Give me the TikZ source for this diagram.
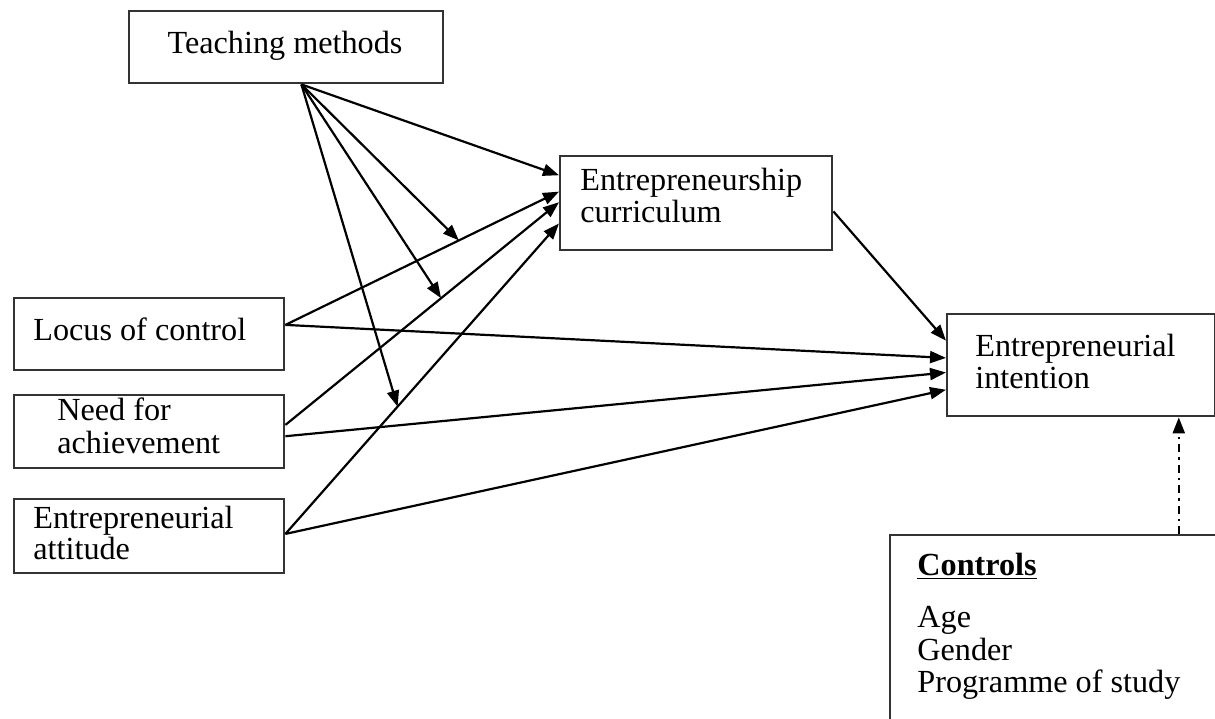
\documentclass[tikz,border=0pt]{standalone}
\usepackage{fontspec}
\setmainfont{Liberation Serif}
\usetikzlibrary{arrows.meta,calc}
\begin{document}
\begin{tikzpicture}[x=0.5pt,y=-0.5pt,
  box/.style={draw=black!80, line width=1.2pt, rectangle, inner sep=0pt, anchor=north west},
  lbl/.style={anchor=base west, inner sep=0pt, font=\fontsize{16.1}{16}\selectfont, text=black},
  tip/.style={-{Triangle[length=8pt,width=6pt]}},
  arr/.style={tip, line width=1.1pt, black},
  dashdot/.style={tip, line width=1.1pt, black, dash pattern=on 4pt off 2.5pt on 1.2pt off 2.5pt},
]
\clip (0,0) rectangle (1215,718);
\fill[white] (0,0) rectangle (1215,718);

% boxes
\node[box, minimum width=157pt, minimum height=36pt] (tm) at (128,10) {};
\node[box, minimum width=136pt, minimum height=47pt] (cur) at (559,155) {};
\node[box, minimum width=135pt, minimum height=36pt] (loc) at (13,297) {};
\node[box, minimum width=135pt, minimum height=36.5pt] (nfa) at (13,394) {};
\node[box, minimum width=135pt, minimum height=37pt] (att) at (13,498) {};
\node[box, minimum width=134pt, minimum height=51pt] (int) at (946,313) {};
\node[box, minimum width=175.5pt, minimum height=103pt] (ctl) at (889,534) {};

% texts
\node[lbl, anchor=base] (tmt) at (285,53) {Teaching methods};
\node[lbl] (curt1) at (580,190) {Entrepreneurship};
\node[lbl] (curt2) at (580,222) {curriculum};
\node[lbl] (loct) at (33,340) {Locus of control};
\node[lbl] (nfat1) at (57,420) {Need for};
\node[lbl] (nfat2) at (57,453) {achievement};
\node[lbl] (attt1) at (33,528) {Entrepreneurial};
\node[lbl] (attt2) at (33,559) {attitude};
\node[lbl] (intt1) at (975,356) {Entrepreneurial};
\node[lbl] (intt2) at (975,388) {intention};
\node[lbl] (ctlt0) at (917,575) {\textbf{\underline{Controls}}};
\node[lbl] (ctlt1) at (917,627) {Age};
\node[lbl] (ctlt2) at (917,660) {Gender};
\node[lbl] (ctlt3) at (917,692) {Programme of study};

% connection points
\coordinate (tmS) at ($(tm.south west)!0.548!(tm.south east)$);
\coordinate (locE) at ($(loc.north east)!0.375!(loc.south east)$);
\coordinate (nfaE1) at ($(nfa.north east)!0.41!(nfa.south east)$);
\coordinate (nfaE2) at ($(nfa.north east)!0.56!(nfa.south east)$);
\coordinate (attE) at ($(att.north east)!0.47!(att.south east)$);
\coordinate (curW0) at ($(cur.north west)!0.21!(cur.south west)$);
\coordinate (curW1) at ($(cur.north west)!0.38!(cur.south west)$);
\coordinate (curW2) at ($(cur.north west)!0.49!(cur.south west)$);
\coordinate (curW3) at ($(cur.north west)!0.71!(cur.south west)$);
\coordinate (curE) at ($(cur.north east)!0.585!(cur.south east)$);
\coordinate (intW0) at ($(int.north west)!0.265!(int.south west)$);
\coordinate (intW1) at ($(int.north west)!0.43!(int.south west)$);
\coordinate (intW2) at ($(int.north west)!0.57!(int.south west)$);
\coordinate (intW3) at ($(int.north west)!0.735!(int.south west)$);
\coordinate (ctlN) at ($(ctl.north west)!0.82!(ctl.north east)$);
\coordinate (m1) at ($(locE)!0.634!(curW1)$);
\coordinate (m2) at ($(nfaE1)!0.569!(curW2)$);
\coordinate (m3) at ($(attE)!0.41!(curW3)$);

% connectors
\draw[arr] (tmS) -- (curW0);
\draw[arr] (tmS) -- (m1);
\draw[arr] (tmS) -- (m2);
\draw[arr] (tmS) -- (m3);
\draw[arr] (locE) -- (curW1);
\draw[arr] (nfaE1) -- (curW2);
\draw[arr] (attE) -- (curW3);
\draw[arr] (curE) -- (intW0);
\draw[arr] (locE) -- (intW1);
\draw[arr] (nfaE2) -- (intW2);
\draw[arr] (attE) -- (intW3);
\draw[dashdot] (ctlN) -- (ctlN |- int.south);
\end{tikzpicture}
\end{document}
